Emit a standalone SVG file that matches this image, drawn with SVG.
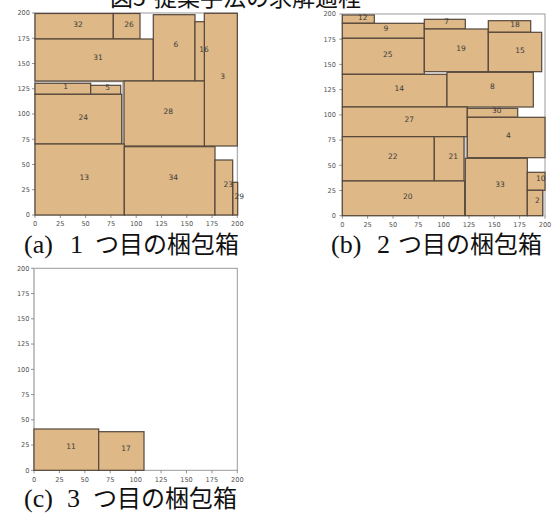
<svg xmlns="http://www.w3.org/2000/svg" width="555" height="516" viewBox="0 0 555 516">
<style>
.bx{fill:#deb887;stroke:#54463a;stroke-width:1.2}
.lb{font-family:"DejaVu Sans",sans-serif;font-size:7.5px;fill:#3a3a3a;text-anchor:middle}
.fr{fill:none;stroke:#9a9a9a;stroke-width:1}
.tk{stroke:#777;stroke-width:0.8}
.ty{font-family:"DejaVu Sans",sans-serif;font-size:6.6px;fill:#555;text-anchor:end}
.tx{font-family:"DejaVu Sans",sans-serif;font-size:6.6px;fill:#555;text-anchor:middle}
.cap{font-family:"Liberation Serif","Noto Sans CJK JP",serif;font-size:26px;fill:#111}
.capj{font-family:"Noto Sans CJK JP",sans-serif;font-size:24px;fill:#111}
</style>
<rect width="555" height="516" fill="#fff"/>
<text id="title" y="6" font-family="Noto Sans CJK JP,sans-serif" font-size="23" fill="#111"><tspan x="110">図</tspan><tspan x="133">5</tspan><tspan x="154">提案手法の求解過程</tspan></text>

<g id="plot-a">
<rect class="fr" x="35" y="13" width="202.3" height="202"/>
<g class="tk">
<line x1="32" y1="215" x2="35" y2="215"/><line x1="32" y1="189.75" x2="35" y2="189.75"/><line x1="32" y1="164.5" x2="35" y2="164.5"/><line x1="32" y1="139.25" x2="35" y2="139.25"/><line x1="32" y1="114" x2="35" y2="114"/><line x1="32" y1="88.75" x2="35" y2="88.75"/><line x1="32" y1="63.5" x2="35" y2="63.5"/><line x1="32" y1="38.25" x2="35" y2="38.25"/><line x1="32" y1="13" x2="35" y2="13"/>
<line x1="35" y1="215" x2="35" y2="218"/><line x1="60.3" y1="215" x2="60.3" y2="218"/><line x1="85.6" y1="215" x2="85.6" y2="218"/><line x1="110.9" y1="215" x2="110.9" y2="218"/><line x1="136.2" y1="215" x2="136.2" y2="218"/><line x1="161.5" y1="215" x2="161.5" y2="218"/><line x1="186.8" y1="215" x2="186.8" y2="218"/><line x1="212" y1="215" x2="212" y2="218"/><line x1="237.3" y1="215" x2="237.3" y2="218"/>
</g>
<g class="ty">
<text x="30" y="217.3">0</text><text x="30" y="192">25</text><text x="30" y="166.8">50</text><text x="30" y="141.5">75</text><text x="30" y="116.3">100</text><text x="30" y="91">125</text><text x="30" y="65.8">150</text><text x="30" y="40.5">175</text><text x="30" y="15.3">200</text>
</g>
<g class="tx">
<text x="35" y="226.3">0</text><text x="60.3" y="226.3">25</text><text x="85.6" y="226.3">50</text><text x="110.9" y="226.3">75</text><text x="136.2" y="226.3">100</text><text x="161.5" y="226.3">125</text><text x="186.8" y="226.3">150</text><text x="212" y="226.3">175</text><text x="237.3" y="226.3">200</text>
</g>
<rect x="35" y="81.7" width="87.7" height="62.3" fill="none" stroke="#b5b5b5" stroke-width="1.2"/>
<g id="a32"><rect class="bx" x="35" y="13.5" width="78.3" height="25.5"/><text class="lb" x="78" y="26.5">32</text></g>
<g id="a26"><rect class="bx" x="113.3" y="13.5" width="26.7" height="25.5"/><text class="lb" x="129" y="26.5">26</text></g>
<g id="a31"><rect class="bx" x="35" y="39" width="118.3" height="42"/><text class="lb" x="98" y="60">31</text></g>
<g id="a6"><rect class="bx" x="153.3" y="14.7" width="41.7" height="66.3"/><text class="lb" x="176" y="47">6</text></g>
<g id="a3"><rect class="bx" x="204.3" y="13.3" width="33" height="132.7"/><text class="lb" x="222.7" y="79">3</text></g>
<g id="a16"><rect class="bx" x="195" y="21.7" width="9.3" height="59.3"/><text class="lb" x="204" y="51.5">16</text></g>
<g id="a1"><rect class="bx" x="35" y="83.3" width="55.7" height="11"/><text class="lb" x="65.7" y="89">1</text></g>
<g id="a5"><rect class="bx" x="90.7" y="85.3" width="30" height="9"/><text class="lb" x="107.7" y="90">5</text></g>
<g id="a24"><rect class="bx" x="35" y="94.3" width="86.7" height="49.7"/><text class="lb" x="83.3" y="119.5">24</text></g>
<g id="a28"><rect class="bx" x="124" y="81" width="80.3" height="65"/><text class="lb" x="168.3" y="113.8">28</text></g>
<g id="a13"><rect class="bx" x="35" y="144" width="89.3" height="71"/><text class="lb" x="84.3" y="180">13</text></g>
<g id="a34"><rect class="bx" x="124.3" y="146.7" width="90.7" height="68.3"/><text class="lb" x="173.3" y="180">34</text></g>
<g id="a29"><rect class="bx" x="232.7" y="182.3" width="5" height="32.7"/><text class="lb" x="239.3" y="198.7">29</text></g>
<g id="a23"><rect class="bx" x="215" y="160" width="17.7" height="55"/><text class="lb" x="228.3" y="187">23</text></g>
<text class="cap" y="253"><tspan x="24">(a)</tspan><tspan x="70">1</tspan></text>
<text class="capj" x="95" y="253">つ目の梱包箱</text>
</g>

<g id="plot-b">
<rect class="fr" x="342.3" y="14" width="202.7" height="201.7"/>
<g class="tk">
<line x1="339.3" y1="215.7" x2="342.3" y2="215.7"/><line x1="339.3" y1="190.5" x2="342.3" y2="190.5"/><line x1="339.3" y1="165.3" x2="342.3" y2="165.3"/><line x1="339.3" y1="140.1" x2="342.3" y2="140.1"/><line x1="339.3" y1="114.9" x2="342.3" y2="114.9"/><line x1="339.3" y1="89.6" x2="342.3" y2="89.6"/><line x1="339.3" y1="64.4" x2="342.3" y2="64.4"/><line x1="339.3" y1="39.2" x2="342.3" y2="39.2"/><line x1="339.3" y1="14" x2="342.3" y2="14"/>
<line x1="342.3" y1="215.7" x2="342.3" y2="218.7"/><line x1="367.6" y1="215.7" x2="367.6" y2="218.7"/><line x1="393" y1="215.7" x2="393" y2="218.7"/><line x1="418.3" y1="215.7" x2="418.3" y2="218.7"/><line x1="443.6" y1="215.7" x2="443.6" y2="218.7"/><line x1="469" y1="215.7" x2="469" y2="218.7"/><line x1="494.3" y1="215.7" x2="494.3" y2="218.7"/><line x1="519.6" y1="215.7" x2="519.6" y2="218.7"/><line x1="545" y1="215.7" x2="545" y2="218.7"/>
</g>
<g class="ty">
<text x="336" y="218">0</text><text x="336" y="192.8">25</text><text x="336" y="167.6">50</text><text x="336" y="142.4">75</text><text x="336" y="117.2">100</text><text x="336" y="91.9">125</text><text x="336" y="66.7">150</text><text x="336" y="41.5">175</text><text x="336" y="16.3">200</text>
</g>
<g class="tx">
<text x="342.3" y="227">0</text><text x="367.6" y="227">25</text><text x="393" y="227">50</text><text x="418.3" y="227">75</text><text x="443.6" y="227">100</text><text x="469" y="227">125</text><text x="494.3" y="227">150</text><text x="519.6" y="227">175</text><text x="545" y="227">200</text>
</g>
<rect x="463.5" y="136.7" width="3.5" height="79" fill="#d0d0d0" stroke="#999" stroke-width="0.6"/>
<rect x="542.7" y="190.3" width="2.3" height="25.4" fill="#cfcfcf"/>
<g id="b12"><rect class="bx" x="342.3" y="15" width="32" height="8.3"/><text class="lb" x="362.7" y="19.5">12</text></g>
<g id="b9"><rect class="bx" x="342.3" y="23.3" width="82" height="15"/><text class="lb" x="386" y="31">9</text></g>
<g id="b25"><rect class="bx" x="342.3" y="38.3" width="82" height="36"/><text class="lb" x="387.7" y="56.8">25</text></g>
<g id="b7"><rect class="bx" x="424.3" y="19.3" width="41" height="9.7"/><text class="lb" x="446.7" y="24.4">7</text></g>
<g id="b19"><rect class="bx" x="424.3" y="29" width="64" height="42.7"/><text class="lb" x="461" y="51">19</text></g>
<g id="b18"><rect class="bx" x="488.3" y="20.7" width="42.4" height="11.6"/><text class="lb" x="515" y="26.7">18</text></g>
<g id="b15"><rect class="bx" x="488.3" y="32.3" width="53.4" height="39.4"/><text class="lb" x="520" y="52.7">15</text></g>
<g id="b14"><rect class="bx" x="342.3" y="74.3" width="104.7" height="32.7"/><text class="lb" x="399.3" y="91">14</text></g>
<g id="b8"><rect class="bx" x="447" y="72.3" width="86.3" height="34.7"/><text class="lb" x="492.3" y="89.4">8</text></g>
<g id="b27"><rect class="bx" x="342.3" y="107" width="125" height="29.7"/><text class="lb" x="409.3" y="121.7">27</text></g>
<g id="b30"><rect class="bx" x="467.3" y="108.3" width="50.4" height="9"/><text class="lb" x="496.7" y="112.7">30</text></g>
<g id="b4"><rect class="bx" x="467.3" y="117.3" width="77.7" height="40.4"/><text class="lb" x="508.3" y="137.7">4</text></g>
<g id="b22"><rect class="bx" x="342.3" y="136.7" width="92" height="44.3"/><text class="lb" x="392.7" y="158.7">22</text></g>
<g id="b21"><rect class="bx" x="434.3" y="136.7" width="29.7" height="44.3"/><text class="lb" x="453.3" y="158.7">21</text></g>
<g id="b20"><rect class="bx" x="342.3" y="181" width="122.4" height="34.7"/><text class="lb" x="407.7" y="198.7">20</text></g>
<g id="b33"><rect class="bx" x="465.3" y="158.3" width="62" height="57.4"/><text class="lb" x="500" y="186.7">33</text></g>
<g id="b10"><rect class="bx" x="527.3" y="172.3" width="17.7" height="18"/><text class="lb" x="540.7" y="181.4">10</text></g>
<g id="b2"><rect class="bx" x="527.3" y="190.3" width="15.4" height="25.4"/><text class="lb" x="537.3" y="202.7">2</text></g>
<text class="cap" y="253"><tspan x="331">(b)</tspan><tspan x="377">2</tspan></text>
<text class="capj" x="398" y="253">つ目の梱包箱</text>
</g>

<g id="plot-c">
<rect class="fr" x="34" y="268.3" width="203.3" height="202"/>
<line x1="34" y1="268.3" x2="34" y2="470.3" stroke="#c0c0c0" stroke-width="1.6"/>
<g class="tk">
<line x1="31" y1="470.3" x2="34" y2="470.3"/><line x1="31" y1="445.05" x2="34" y2="445.05"/><line x1="31" y1="419.8" x2="34" y2="419.8"/><line x1="31" y1="394.55" x2="34" y2="394.55"/><line x1="31" y1="369.3" x2="34" y2="369.3"/><line x1="31" y1="344.05" x2="34" y2="344.05"/><line x1="31" y1="318.8" x2="34" y2="318.8"/><line x1="31" y1="293.55" x2="34" y2="293.55"/><line x1="31" y1="268.3" x2="34" y2="268.3"/>
<line x1="34" y1="470.3" x2="34" y2="473.3"/><line x1="59.4" y1="470.3" x2="59.4" y2="473.3"/><line x1="84.8" y1="470.3" x2="84.8" y2="473.3"/><line x1="110.2" y1="470.3" x2="110.2" y2="473.3"/><line x1="135.7" y1="470.3" x2="135.7" y2="473.3"/><line x1="161.1" y1="470.3" x2="161.1" y2="473.3"/><line x1="186.5" y1="470.3" x2="186.5" y2="473.3"/><line x1="211.9" y1="470.3" x2="211.9" y2="473.3"/><line x1="237.3" y1="470.3" x2="237.3" y2="473.3"/>
</g>
<g class="ty">
<text x="29.5" y="472.6">0</text><text x="29.5" y="447.3">25</text><text x="29.5" y="422.1">50</text><text x="29.5" y="396.8">75</text><text x="29.5" y="371.6">100</text><text x="29.5" y="346.3">125</text><text x="29.5" y="321.1">150</text><text x="29.5" y="295.8">175</text><text x="29.5" y="270.6">200</text>
</g>
<g class="tx">
<text x="34" y="481.8">0</text><text x="59.4" y="481.8">25</text><text x="84.8" y="481.8">50</text><text x="110.2" y="481.8">75</text><text x="135.7" y="481.8">100</text><text x="161.1" y="481.8">125</text><text x="186.5" y="481.8">150</text><text x="211.9" y="481.8">175</text><text x="237.3" y="481.8">200</text>
</g>
<g id="c11"><rect class="bx" x="34" y="429" width="64.7" height="41.3"/><text class="lb" x="71" y="449.4">11</text></g>
<g id="c17"><rect class="bx" x="98.7" y="431.7" width="45.3" height="38.6"/><text class="lb" x="126" y="451">17</text></g>
<text class="cap" y="507"><tspan x="24">(c)</tspan><tspan x="67">3</tspan></text>
<text class="capj" x="93" y="507">つ目の梱包箱</text>
</g>
</svg>
